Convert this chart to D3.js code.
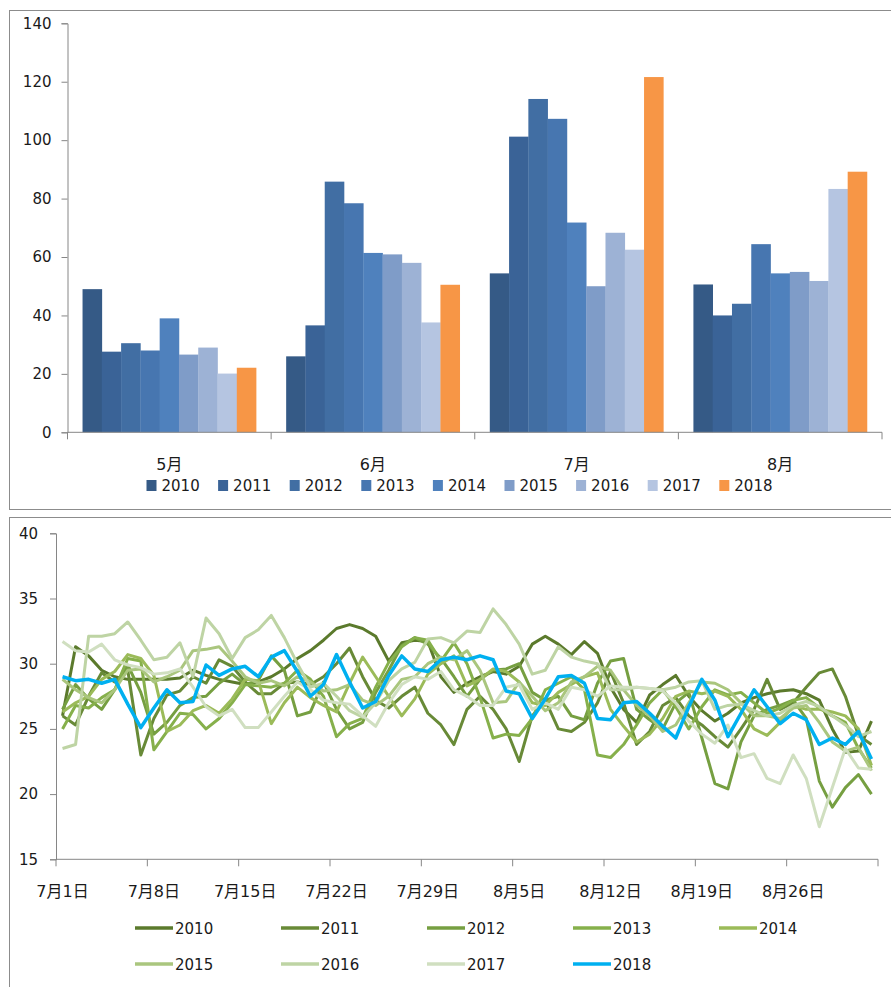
<!DOCTYPE html>
<html>
<head>
<meta charset="utf-8">
<script src="https://cdnjs.cloudflare.com/ajax/libs/d3/7.8.5/d3.min.js"></script>
<style>
  body { margin: 0; background: #fff; }
  svg text { font-family: "DejaVu Sans", "Noto Sans CJK SC", sans-serif; fill: #1a1a1a; }
</style>
</head>
<body>
<div id="chart"></div>
<script>
// ---- top chart data (monthly totals) ----
const months = ["5月", "6月", "7月", "8月"];
const years = ["2010", "2011", "2012", "2013", "2014", "2015", "2016", "2017", "2018"];
const barValues = {
  "2010": [49.0, 26.0, 54.4, 50.6],
  "2011": [27.6, 36.6, 101.2, 40.0],
  "2012": [30.5, 85.8, 114.1, 44.0],
  "2013": [28.0, 78.4, 107.3, 64.4],
  "2014": [39.0, 61.4, 71.8, 54.4],
  "2015": [26.6, 60.9, 50.0, 54.9],
  "2016": [29.0, 58.0, 68.3, 51.8],
  "2017": [20.1, 37.6, 62.5, 83.3],
  "2018": [22.1, 50.5, 121.6, 89.2]
};
const barColors = ["#355a86", "#3a6397", "#416ea3", "#4776b0", "#4f81bd", "#7f9cc8", "#9db2d5", "#b5c5e1", "#f79646"];
const barTicks = [0, 20, 40, 60, 80, 100, 120, 140];

// ---- bottom chart data (daily values, 7/1 .. 9/1) ----
const dayStart = new Date(2018, 6, 1);
const dayEnd = new Date(2018, 8, 2);
const dayTickLabels = ["7月1日", "7月8日", "7月15日", "7月22日", "7月29日", "8月5日", "8月12日", "8月19日", "8月26日"];
const lineTicks = [15, 20, 25, 30, 35, 40];
const lineColors = ["#5b7a2c", "#688a37", "#769f41", "#86b04b", "#9bbb59", "#aac67e", "#bed4a4", "#d0dfc0", "#00b0f0"];

const s2010 = [26.0, 31.3, 30.6, 29.5, 29.0, 28.8, 28.8, 28.8, 28.8, 28.9, 29.5, 29.1, 28.8, 28.6, 28.4, 28.6, 29.0, 29.6, 30.4, 31.0, 31.8, 32.7, 33.0, 32.7, 32.1, 30.2, 31.6, 31.8, 31.7, 29.0, 27.8, 28.5, 29.0, 29.4, 29.2, 29.8, 31.5, 32.1, 31.5, 30.7, 31.7, 30.8, 28.2, 26.5, 25.5, 27.6, 28.4, 29.1, 27.5, 26.4, 25.6, 26.2, 27.0, 27.4, 27.7, 27.9, 28.0, 27.7, 27.2, 25.0, 23.2, 23.3, 25.6];
const s2011 = [26.0, 25.3, 27.5, 29.3, 28.6, 29.5, 23.0, 25.8, 27.6, 27.9, 29.0, 28.5, 30.3, 29.8, 28.6, 27.7, 27.7, 28.5, 28.6, 28.4, 29.0, 30.0, 31.2, 29.0, 27.2, 26.6, 27.5, 28.2, 26.2, 25.3, 23.8, 26.5, 27.5, 26.5, 25.0, 22.5, 26.0, 27.2, 25.0, 24.8, 25.5, 27.0, 29.4, 27.0, 23.8, 24.8, 26.8, 27.4, 26.0, 25.3, 24.4, 23.6, 25.0, 26.5, 28.8, 26.5, 27.0, 28.2, 29.3, 29.6, 27.5, 24.5, 23.8];
const s2012 = [26.5, 28.4, 27.3, 26.5, 28.0, 29.9, 27.8, 24.6, 25.5, 26.8, 27.4, 27.5, 28.5, 29.2, 28.4, 28.7, 30.6, 29.5, 26.0, 26.3, 28.6, 26.5, 25.0, 25.5, 27.8, 29.5, 31.4, 32.0, 31.5, 30.4, 29.0, 27.5, 28.8, 29.5, 29.6, 30.0, 27.8, 27.2, 27.5, 26.0, 25.7, 28.5, 30.2, 30.4, 26.5, 25.7, 25.0, 27.0, 27.8, 24.3, 20.8, 20.4, 24.0, 26.0, 26.5, 26.8, 27.2, 25.8, 21.0, 19.0, 20.5, 21.5, 20.0];
const s2013 = [25.0, 26.8, 26.6, 27.4, 28.0, 30.4, 30.2, 23.4, 24.8, 26.2, 26.1, 25.0, 25.8, 27.0, 28.4, 28.3, 28.2, 28.5, 29.5, 28.8, 27.5, 24.4, 25.4, 25.8, 28.2, 30.1, 31.3, 32.0, 31.8, 30.2, 31.6, 30.0, 27.4, 24.3, 24.6, 24.5, 25.8, 28.0, 28.5, 29.0, 28.0, 23.0, 22.8, 23.8, 25.3, 27.0, 28.0, 26.7, 25.0, 26.7, 28.0, 27.6, 27.8, 27.0, 26.2, 26.6, 27.2, 27.4, 26.6, 26.0, 25.5, 23.5, 22.0];
const s2014 = [26.3, 27.0, 27.5, 28.8, 29.4, 30.7, 30.4, 29.1, 24.8, 25.3, 26.4, 26.8, 26.2, 27.3, 28.8, 28.7, 25.4, 27.0, 28.2, 27.4, 26.8, 26.3, 28.5, 30.5, 29.0, 27.5, 26.0, 27.3, 29.2, 30.0, 30.6, 28.3, 28.8, 29.6, 29.4, 28.6, 27.0, 26.8, 27.8, 28.4, 29.0, 29.3, 26.5, 25.2, 24.0, 24.6, 25.8, 27.5, 27.9, 27.7, 27.9, 27.5, 26.5, 25.0, 24.5, 25.5, 26.8, 26.5, 26.5, 26.3, 26.0, 25.0, 22.2];
const s2015 = [28.8, 28.0, 27.4, 27.0, 28.0, 29.5, 29.6, 28.6, 29.0, 29.5, 31.0, 31.1, 31.3, 30.2, 29.0, 28.5, 28.7, 28.3, 29.0, 28.6, 27.9, 28.0, 28.4, 27.2, 26.8, 27.5, 28.8, 29.0, 30.0, 30.5, 30.3, 31.0, 29.5, 27.0, 27.1, 28.6, 27.5, 26.4, 27.0, 28.6, 29.0, 29.8, 29.5, 28.0, 26.8, 26.0, 24.8, 25.3, 27.0, 28.6, 28.5, 28.0, 27.0, 26.0, 26.0, 25.8, 26.6, 26.8, 25.5, 24.0, 23.3, 23.6, 21.8];
const s2016 = [23.5, 23.8, 32.1, 32.1, 32.3, 33.2, 31.8, 30.3, 30.5, 31.6, 29.0, 33.5, 32.3, 30.4, 32.0, 32.6, 33.7, 32.0, 30.0, 28.2, 28.5, 27.5, 26.4, 25.9, 27.0, 28.7, 29.6, 30.1, 31.9, 32.0, 31.6, 32.5, 32.4, 34.2, 33.0, 31.5, 29.2, 29.5, 31.3, 30.5, 30.2, 30.0, 28.0, 28.0, 28.2, 28.1, 28.0, 28.2, 28.6, 28.7, 26.5, 26.8, 26.9, 26.4, 26.0, 26.2, 26.8, 27.1, 26.7, 26.0, 25.3, 24.4, 24.8];
const s2017 = [31.7, 31.0, 30.9, 31.5, 30.3, 29.9, 29.7, 29.2, 29.3, 29.6, 28.2, 26.7, 26.0, 26.5, 25.1, 25.1, 26.3, 27.5, 28.6, 28.0, 27.2, 27.0, 26.9, 26.0, 25.2, 27.0, 28.4, 29.0, 28.8, 29.4, 28.0, 27.5, 26.8, 26.8, 28.2, 28.4, 26.5, 27.0, 26.5, 28.2, 28.0, 27.5, 28.3, 28.2, 28.2, 28.1, 27.9, 27.0, 25.6, 24.6, 23.9, 25.3, 22.8, 23.1, 21.2, 20.8, 23.0, 21.2, 17.5, 20.5, 23.5, 22.0, 21.9];
const s2018 = [29.0, 28.7, 28.8, 28.5, 28.8, 26.9, 25.1, 26.6, 28.0, 27.0, 27.1, 29.9, 29.1, 29.6, 29.8, 29.0, 30.5, 31.0, 29.4, 27.5, 28.4, 30.7, 28.6, 26.6, 27.1, 29.1, 30.6, 29.6, 29.4, 30.3, 30.5, 30.3, 30.6, 30.3, 27.9, 27.7, 25.8, 27.3, 29.0, 29.1, 28.5, 25.8, 25.7, 27.0, 27.1, 26.2, 25.2, 24.3, 26.7, 28.8, 27.2, 24.4, 26.2, 28.0, 26.7, 25.4, 26.2, 25.7, 23.8, 24.3, 23.8, 24.8, 22.7];
const lineSeries = [s2010, s2011, s2012, s2013, s2014, s2015, s2016, s2017, s2018];

const W = 891, H = 987;
const svg = d3.select("#chart").append("svg")
  .attr("width", W).attr("height", H);

// panel frames
svg.append("rect").attr("x", 9.5).attr("y", 10.5).attr("width", 900).attr("height", 499)
  .attr("fill", "#fff").attr("stroke", "#8c8c8c");
svg.append("rect").attr("x", 9.5).attr("y", 517.5).attr("width", 900).attr("height", 500)
  .attr("fill", "#fff").attr("stroke", "#8c8c8c");

const axisColor = "#868686";

// ================= top: grouped bars =================
const barG = svg.append("g");
const x0 = d3.scaleBand().domain(months).range([67.5, 882]).padding(0);
const x1 = d3.scaleBand().domain(years).range([0, x0.bandwidth()]).paddingInner(0).paddingOuter(0.78);
const y0 = d3.scaleLinear().domain([0, 140]).range([432.3, 23.3]);

const groups = barG.append("g").selectAll("g")
  .data(months)
  .join("g")
  .attr("transform", d => `translate(${x0(d)},0)`);

groups.selectAll("rect")
  .data((m, i) => years.map((yr, j) => ({ yr, j, v: barValues[yr][i] })))
  .join("rect")
  .attr("x", d => x1(d.yr))
  .attr("width", x1.bandwidth() + 0.3)
  .attr("y", d => y0(d.v))
  .attr("height", d => y0(0) - y0(d.v))
  .attr("fill", d => barColors[d.j]);

// y axis
const yAxisTop = barG.append("g")
  .attr("transform", "translate(67.5,0)")
  .call(d3.axisLeft(y0).tickValues(barTicks).tickSize(6).tickPadding(10));
yAxisTop.select(".domain").attr("stroke", axisColor);
yAxisTop.selectAll(".tick line").attr("stroke", axisColor);
yAxisTop.selectAll(".tick text").style("font-size", "15px").attr("fill", "#1a1a1a");

// x axis line with boundary ticks
barG.append("line").attr("x1", 67.5).attr("x2", 882).attr("y1", y0(0)).attr("y2", y0(0))
  .attr("stroke", axisColor);
barG.append("g").selectAll("line")
  .data(months.map(m => x0(m)).concat([x0.range()[1]]))
  .join("line")
  .attr("x1", d => d).attr("x2", d => d)
  .attr("y1", y0(0)).attr("y2", y0(0) + 7)
  .attr("stroke", axisColor);

barG.append("g").selectAll("text")
  .data(months)
  .join("text")
  .attr("x", d => x0(d) + x0.bandwidth() / 2)
  .attr("y", 470)
  .attr("text-anchor", "middle")
  .style("font-size", "16px")
  .text(d => d);

// legend
const legTop = barG.append("g").selectAll("g")
  .data(years)
  .join("g")
  .attr("transform", (d, i) => `translate(${146.5 + i * 71.6},480)`);
legTop.append("rect").attr("width", 10).attr("height", 11).attr("fill", (d, i) => barColors[i]);
legTop.append("text").attr("x", 15).attr("y", 11).style("font-size", "15px").text(d => d);

// ================= bottom: daily lines =================
const lineG = svg.append("g");
const days = d3.timeDay.range(dayStart, dayEnd);
const xb = d3.scaleBand().domain(days.map((d, i) => i)).range([56, 878]).padding(0);
const yb = d3.scaleLinear().domain([15, 40]).range([859.3, 533.3]);

const yAxisBot = lineG.append("g")
  .attr("transform", "translate(56,0)")
  .call(d3.axisLeft(yb).tickValues(lineTicks).tickSize(6).tickPadding(12));
yAxisBot.select(".domain").attr("stroke", axisColor);
yAxisBot.selectAll(".tick line").attr("stroke", axisColor);
yAxisBot.selectAll(".tick text").style("font-size", "15px").attr("fill", "#1a1a1a");

lineG.append("line").attr("x1", 56).attr("x2", 878).attr("y1", yb(15)).attr("y2", yb(15))
  .attr("stroke", axisColor);
const tickIdx = d3.range(0, days.length + 1, 7);
lineG.append("g").selectAll("line")
  .data(tickIdx)
  .join("line")
  .attr("x1", d => d < days.length ? xb(d) : xb.range()[1])
  .attr("x2", d => d < days.length ? xb(d) : xb.range()[1])
  .attr("y1", yb(15)).attr("y2", yb(15) + 7)
  .attr("stroke", axisColor);
lineG.append("g").selectAll("text")
  .data(dayTickLabels)
  .join("text")
  .attr("x", (d, i) => xb(i * 7) + xb.bandwidth() / 2)
  .attr("y", 897)
  .attr("text-anchor", "middle")
  .style("font-size", "16px")
  .text(d => d);

const line = d3.line()
  .x((d, i) => xb(i) + xb.bandwidth() / 2)
  .y(d => yb(d))
  .curve(d3.curveLinear);

lineG.append("g").selectAll("path")
  .data(lineSeries)
  .join("path")
  .attr("d", line)
  .attr("fill", "none")
  .attr("stroke", (d, i) => lineColors[i])
  .attr("stroke-width", (d, i) => i === 8 ? 3.5 : 3)
  .attr("stroke-linejoin", "round");

// legend (two rows of five)
const legBot = lineG.append("g").selectAll("g")
  .data(years)
  .join("g")
  .attr("transform", (d, i) => `translate(${135 + (i % 5) * 146},${i < 5 ? 928 : 964})`);
legBot.append("line").attr("x1", 0).attr("x2", 38).attr("y1", 0).attr("y2", 0)
  .attr("stroke", (d, i) => lineColors[i]).attr("stroke-width", 3.5);
legBot.append("text").attr("x", 40).attr("y", 6).style("font-size", "15px").text(d => d);
</script>
</body>
</html>
